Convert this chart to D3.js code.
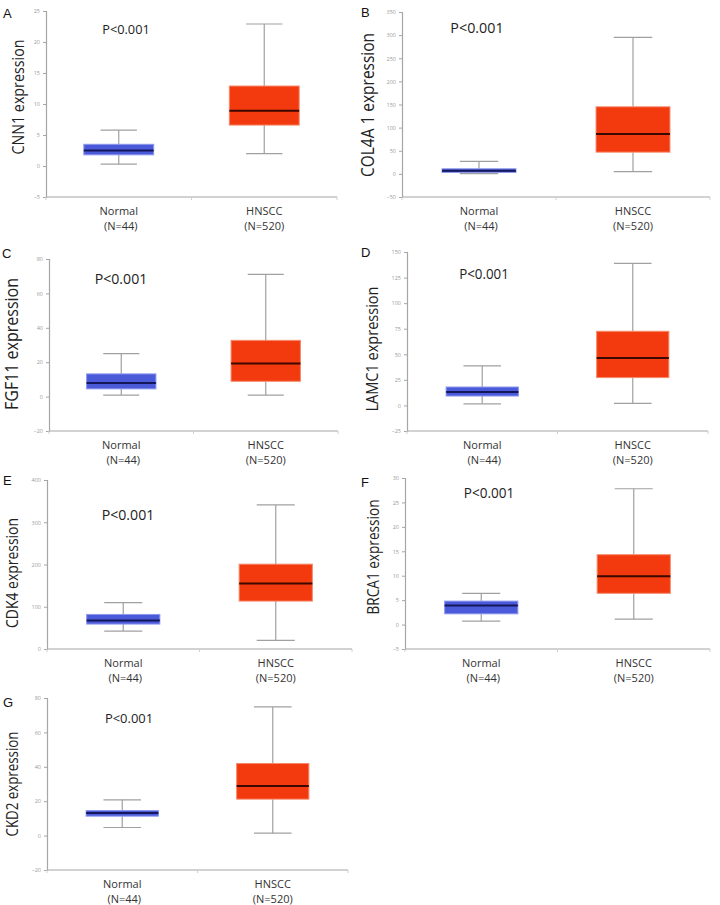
<!DOCTYPE html>
<html>
<head>
<meta charset="utf-8">
<script src="https://cdn.jsdelivr.net/npm/d3@7"></script>
<style>
  html, body { margin: 0; padding: 0; background: #fff; }
  svg { display: block; }
</style>
</head>
<body>
<svg id="chart" width="720" height="905"></svg>
<script>
// ---------------- DATA ----------------
const genes = ["CNN1", "COL4A 1", "FGF11", "LAMC1", "CDK4", "BRCA1", "CKD2"];
const panelLetters = ["A", "B", "C", "D", "E", "F", "G"];
const groups = ["Normal", "HNSCC"];
const groupN = ["(N=44)", "(N=520)"];
const pLabel = "P<0.001";
const yDomains = [[-5, 25], [-50, 350], [-20, 80], [-25, 150], [0, 400], [-5, 30], [-20, 80]];
const yTicks = [
  [-5, 0, 5, 10, 15, 20, 25],
  [-50, 0, 50, 100, 150, 200, 250, 300, 350],
  [-20, 0, 20, 40, 60, 80],
  [-25, 0, 25, 50, 75, 100, 125, 150],
  [0, 100, 200, 300, 400],
  [-5, 0, 5, 10, 15, 20, 25, 30],
  [-20, 0, 20, 40, 60, 80]
];
// [lower whisker, Q1, median, Q3, upper whisker]
const normalStats = [
  [0.3, 1.8, 2.5, 3.5, 5.8],
  [0.6, 3, 7, 11, 27],
  [0.8, 4.5, 7.9, 13.2, 25],
  [1.6, 9.2, 13.1, 18, 38.7],
  [42.5, 59, 67.6, 81.8, 110],
  [0.7, 2.2, 3.9, 4.8, 6.4],
  [4.7, 11.3, 13.2, 14.6, 20.8]
];
const hnsccStats = [
  [2.0, 6.6, 8.9, 12.9, 22.9],
  [5, 47, 86, 145, 295],
  [0.8, 8.9, 19.3, 32.7, 71.1],
  [2, 27.2, 46.3, 72.5, 138.9],
  [20.5, 113.4, 155, 200.8, 341],
  [1.1, 6.4, 9.9, 14.3, 27.8],
  [1.4, 21.2, 28.8, 41.9, 74.8]
];

// ---------------- LAYOUT (pixels / styles) ----------------
const layout = [
  {x0: 46,  x1: 337, yTop: 11,  yBot: 197, letter: [3, 18],    pX: 126, pY: 34,  pFs: 13.2, yl: [18, 97],   ylFs: 16.2, ylLen: 115},
  {x0: 402, x1: 710, yTop: 12,  yBot: 197, letter: [361, 17],  pX: 477, pY: 33,  pFs: 14.8, yl: [368, 105], ylFs: 17.8, ylLen: 144},
  {x0: 49,  x1: 338, yTop: 259, yBot: 431, letter: [2, 258],   pX: 121, pY: 284, pFs: 14.6, yl: [12, 344],  ylFs: 17.8, ylLen: 132},
  {x0: 407, x1: 708, yTop: 252, yBot: 431, letter: [361, 257], pX: 484, pY: 279, pFs: 13.8, yl: [372, 349], ylFs: 16.4, ylLen: 125},
  {x0: 47,  x1: 352, yTop: 480, yBot: 649, letter: [3, 485],   pX: 128, pY: 520, pFs: 14.6, yl: [12, 573],  ylFs: 16.0, ylLen: 110},
  {x0: 405, x1: 710, yTop: 478, yBot: 649, letter: [361, 487], pX: 489, pY: 498, pFs: 14.0, yl: [373, 557], ylFs: 15.6, ylLen: 115},
  {x0: 47,  x1: 348, yTop: 698, yBot: 870, letter: [3, 707],   pX: 129, pY: 723, pFs: 13.4, yl: [12, 784],  ylFs: 15.4, ylLen: 105}
];
const groupStyles = [
  {fill: "#4b5ad9", stroke: "#8c97ee", median: "#14185a"},
  {fill: "#f23a0e", stroke: "#f58a6c", median: "#3a0800"}
];
const axisColor = "#a6a6a6";
const whiskerColor = "#a0a0a0";
const font = "'Open Sans', 'Liberation Sans', sans-serif";

// ---------------- DRAW ----------------
const svg = d3.select("#chart");

genes.forEach((gene, i) => {
  const L = layout[i];
  const g = svg.append("g");
  const y = d3.scaleLinear().domain(yDomains[i]).range([L.yBot, L.yTop]);
  const x = d3.scalePoint().domain(groups).range([L.x0, L.x1]).padding(0.5);
  const boxW = (L.x1 - L.x0) * 0.24;
  const capW = boxW * 0.52;

  // y axis
  const yAxis = d3.axisLeft(y).tickValues(yTicks[i]).tickSize(3).tickPadding(3).tickFormat(d3.format("d"));
  const ya = g.append("g").attr("transform", `translate(${L.x0},0)`).call(yAxis);
  ya.select(".domain").attr("stroke", axisColor).attr("stroke-width", 1.2);
  ya.selectAll(".tick line").attr("stroke", axisColor);
  ya.selectAll(".tick text").attr("fill", "#9a9a9a").style("font-size", "5.5px").style("font-family", font);

  // x axis line + small ticks
  g.append("line").attr("x1", L.x0).attr("x2", L.x1).attr("y1", L.yBot).attr("y2", L.yBot)
    .attr("stroke", axisColor).attr("stroke-width", 1.2);
  const step = x.step();
  [L.x0, L.x0 + step, L.x1].forEach(tx => {
    g.append("line").attr("x1", tx).attr("x2", tx).attr("y1", L.yBot).attr("y2", L.yBot + 3)
      .attr("stroke", "#d0d0d0").attr("stroke-width", 1);
  });

  // boxes
  [normalStats[i], hnsccStats[i]].forEach((s, gi) => {
    const cx = x(groups[gi]);
    const st = groupStyles[gi];
    const [lo, q1, med, q3, hi] = s;
    // whiskers
    g.append("line").attr("x1", cx).attr("x2", cx).attr("y1", y(hi)).attr("y2", y(q3))
      .attr("stroke", whiskerColor).attr("stroke-width", 1.2);
    g.append("line").attr("x1", cx).attr("x2", cx).attr("y1", y(q1)).attr("y2", y(lo))
      .attr("stroke", whiskerColor).attr("stroke-width", 1.2);
    g.append("line").attr("x1", cx - capW / 2).attr("x2", cx + capW / 2).attr("y1", y(hi)).attr("y2", y(hi))
      .attr("stroke", whiskerColor).attr("stroke-width", 1.2);
    g.append("line").attr("x1", cx - capW / 2).attr("x2", cx + capW / 2).attr("y1", y(lo)).attr("y2", y(lo))
      .attr("stroke", whiskerColor).attr("stroke-width", 1.2);
    // box
    g.append("rect").attr("x", cx - boxW / 2).attr("y", y(q3)).attr("width", boxW)
      .attr("height", Math.max(1, y(q1) - y(q3)))
      .attr("fill", st.fill).attr("stroke", st.stroke).attr("stroke-width", 1);
    // median
    g.append("line").attr("x1", cx - boxW / 2).attr("x2", cx + boxW / 2).attr("y1", y(med)).attr("y2", y(med))
      .attr("stroke", st.median).attr("stroke-width", 2);

    // category labels
    g.append("text").attr("x", cx).attr("y", L.yBot + 18).attr("text-anchor", "middle")
      .style("font-family", font).style("font-size", "11px").attr("fill", "#333").text(groups[gi]);
    g.append("text").attr("x", cx + (gi === 0 ? 2 : 0)).attr("y", L.yBot + 33).attr("text-anchor", "middle")
      .style("font-family", font).style("font-size", "11px").attr("fill", "#333").text(groupN[gi]);
  });

  // p-value
  g.append("text").attr("x", L.pX).attr("y", L.pY).attr("text-anchor", "middle")
    .attr("textLength", L.pFs * 3.6).attr("lengthAdjust", "spacingAndGlyphs")
    .style("font-family", font).style("font-size", L.pFs + "px").attr("fill", "#222").text(pLabel);

  // y label
  g.append("text").attr("transform", `translate(${L.yl[0] + L.ylFs * 0.36},${L.yl[1]}) rotate(-90)`)
    .attr("text-anchor", "middle")
    .attr("textLength", L.ylLen).attr("lengthAdjust", "spacingAndGlyphs")
    .style("font-family", font).style("font-size", L.ylFs + "px").attr("fill", "#222")
    .text(gene + " expression");

  // panel letter
  g.append("text").attr("x", L.letter[0]).attr("y", L.letter[1])
    .style("font-family", "'Liberation Sans', Arial, sans-serif").style("font-size", "13px").attr("fill", "#111")
    .text(panelLetters[i]);
});
</script>
</body>
</html>
